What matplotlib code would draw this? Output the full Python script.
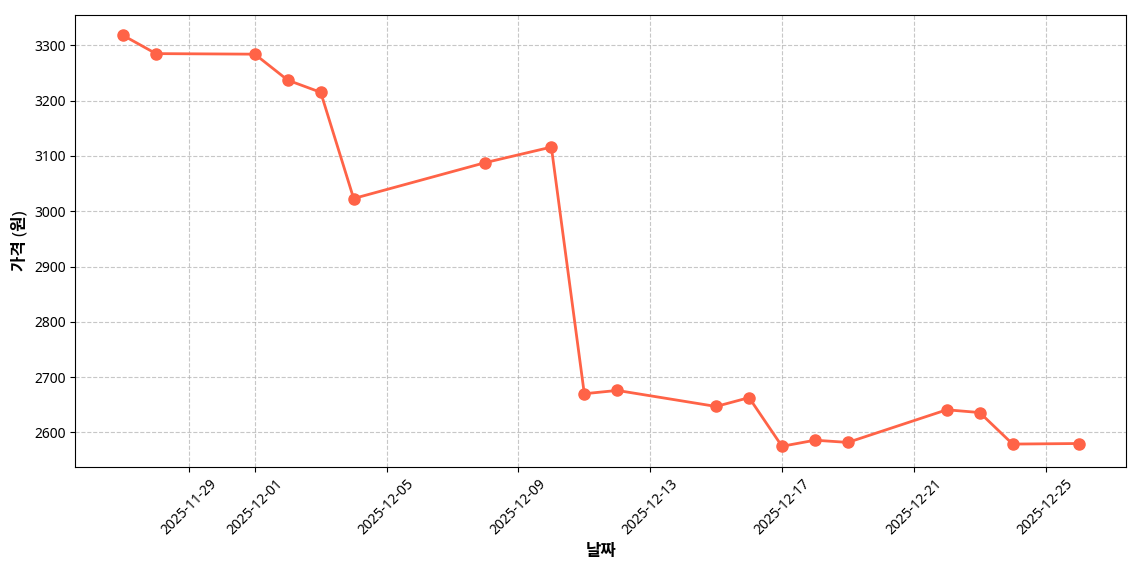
import pandas as pd
import matplotlib
matplotlib.use('Agg')
import matplotlib.pyplot as plt
import matplotlib.dates as mdates

plt.rcParams['font.family'] = ['Noto Sans', 'Noto Sans CJK KR', 'DejaVu Sans']
plt.rcParams['axes.unicode_minus'] = False

dates = ['2025-11-27', '2025-11-28', '2025-12-01', '2025-12-02', '2025-12-03',
         '2025-12-04', '2025-12-08', '2025-12-10', '2025-12-11', '2025-12-12',
         '2025-12-15', '2025-12-16', '2025-12-17', '2025-12-18', '2025-12-19',
         '2025-12-22', '2025-12-23', '2025-12-24', '2025-12-26']
prices = [3318, 3285, 3284, 3237, 3215,
          3023, 3088, 3116, 2670, 2676,
          2647, 2663, 2575, 2586, 2582,
          2641, 2636, 2579, 2580]

x = pd.to_datetime(dates)

fig, ax = plt.subplots(figsize=(11.4, 5.7), dpi=100)
ax.plot(x, prices, color='#FF6347', linewidth=2, marker='o', markersize=8)

ax.set_xlabel('날짜', fontsize=12, fontweight='bold')
ax.set_ylabel('가격 (원)', fontsize=12, fontweight='bold')
ax.grid(True, linestyle='--', alpha=0.7)
ax.xaxis.set_major_formatter(mdates.DateFormatter('%Y-%m-%d'))
plt.setp(ax.get_xticklabels(), rotation=45)

fig.subplots_adjust(left=0.066, right=0.988, top=0.974, bottom=0.181)
fig.savefig('out.png')
